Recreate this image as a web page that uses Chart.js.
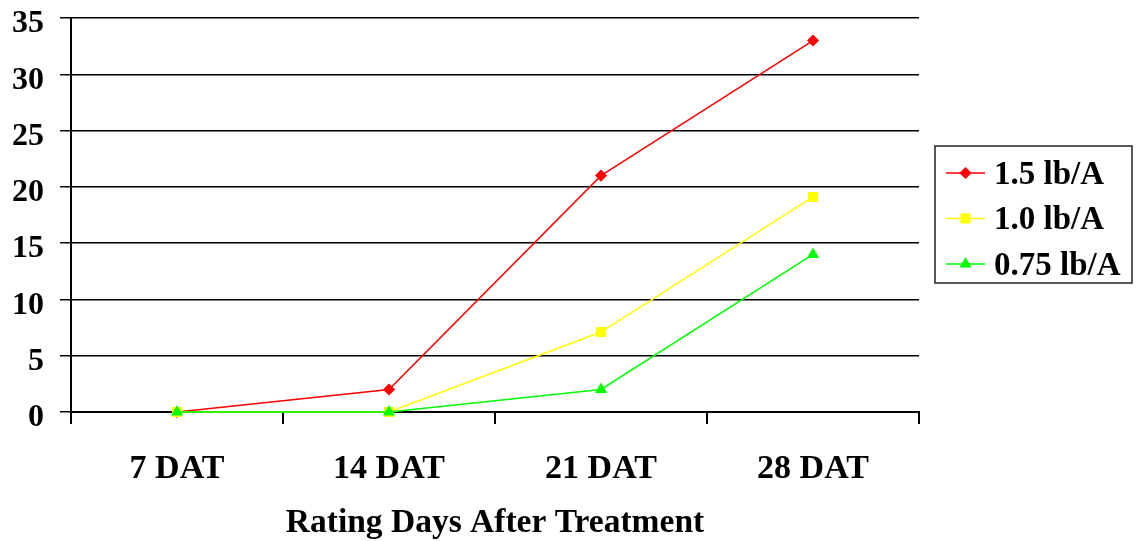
<!DOCTYPE html>
<html>
<head>
<meta charset="utf-8">
<script src="https://cdn.jsdelivr.net/npm/chart.js@4/dist/chart.umd.min.js"></script>
<style>
  html, body { margin: 0; padding: 0; background: #fff; }
  #wrap { width: 1136px; height: 541px; position: relative; }
</style>
</head>
<body>
<div id="wrap"><canvas id="chart"></canvas></div>
<script>
// categories and series
const categories = ['7 DAT', '14 DAT', '21 DAT', '28 DAT'];
const rate150 = [0, 2, 21, 33];
const rate100 = [0, 0, 7.1, 19.1];
const rate075 = [0, 0, 2, 14];
const seriesNames = ['1.5 lb/A', '1.0 lb/A', '0.75 lb/A'];
const axisTitle = 'Rating Days After Treatment';

const FONT = "'Liberation Serif', 'Times New Roman', serif";

// boxed legend on the right, with a line + marker sample per series
const boxLegend = {
    id: 'boxLegend',
    afterDraw(chart) {
        const c = chart.ctx;
        const x0 = 935, y0 = 146, w = 197, h = 137;
        c.save();
        c.strokeStyle = '#222';
        c.lineWidth = 1.5;
        c.strokeRect(x0, y0, w, h);
        c.font = "bold 33px " + FONT;
        c.textBaseline = 'middle';
        c.textAlign = 'left';
        chart.data.datasets.forEach((ds, i) => {
            const y = 173 + i * 45.5;
            c.strokeStyle = ds.borderColor;
            c.lineWidth = 1.5;
            c.beginPath();
            c.moveTo(946, y);
            c.lineTo(985, y);
            c.stroke();
            c.fillStyle = ds.backgroundColor;
            c.strokeStyle = ds.borderColor;
            Chart.helpers.drawPoint(c, {
                pointStyle: ds.pointStyle, radius: ds.pointRadius, rotation: 0, borderWidth: 1
            }, 965.5, y);
            c.fillStyle = '#000';
            c.fillText(ds.label, 994, y + 2);
        });
        c.restore();
    }
};

new Chart(document.getElementById('chart'), {
    type: 'line',
    data: {
        labels: categories,
        datasets: [
            { label: seriesNames[0], data: rate150, borderColor: '#ff0000', backgroundColor: '#ff0000',
              pointStyle: 'rectRot', pointRadius: 5, borderWidth: 1.5, order: 2, clip: false },
            { label: seriesNames[1], data: rate100, borderColor: '#ffff00', backgroundColor: '#ffff00',
              pointStyle: 'rect', pointRadius: 6, borderWidth: 1.5, order: 1, clip: false },
            { label: seriesNames[2], data: rate075, borderColor: '#00ff00', backgroundColor: '#00ff00',
              pointStyle: 'triangle', pointRadius: 5.5, borderWidth: 1.5, order: 0, clip: false }
        ]
    },
    options: {
        responsive: true,
        maintainAspectRatio: false,
        animation: false,
        layout: { padding: { top: 18, right: 217, left: 0, bottom: 0 } },
        plugins: {
            legend: { display: false },
            tooltip: { enabled: false }
        },
        elements: { line: { tension: 0 }, point: { borderWidth: 1 } },
        scales: {
            x: {
                offset: true,
                grid: {
                    offset: true,
                    drawOnChartArea: true,
                    color: (ctx) => ctx.index === categories.length ? '#444' : 'rgba(0,0,0,0)',
                    lineWidth: 2,
                    tickColor: '#000',
                    tickLength: 12
                },
                border: { display: true, color: '#000', width: 2 },
                ticks: {
                    color: '#000',
                    padding: 28,
                    font: { family: FONT, size: 34, weight: 'bold', lineHeight: 1 }
                },
                title: {
                    display: true,
                    text: axisTitle,
                    color: '#000',
                    padding: { top: 0, bottom: 1 },
                    font: { family: FONT, size: 33.5, weight: 'bold', lineHeight: 1 }
                },
                afterFit(scale) { scale.height = 129; }
            },
            y: {
                min: 0,
                max: 35,
                ticks: {
                    stepSize: 5,
                    color: '#000',
                    padding: 16,
                    // blank first line nudges the number a few px below its gridline, as in the original
                    callback: (v) => ['', String(v)],
                    font: { family: FONT, size: 32, weight: 'bold', lineHeight: 0.38 }
                },
                grid: { color: '#000', lineWidth: 1.5, tickColor: '#000', tickLength: 11 },
                border: { display: true, color: '#000', width: 2 },
                afterFit(scale) {
                    scale.width = 71;
                    scale.paddingTop = 0;
                    scale.paddingBottom = 0;
                }
            }
        }
    },
    plugins: [boxLegend]
});
</script>
</body>
</html>
